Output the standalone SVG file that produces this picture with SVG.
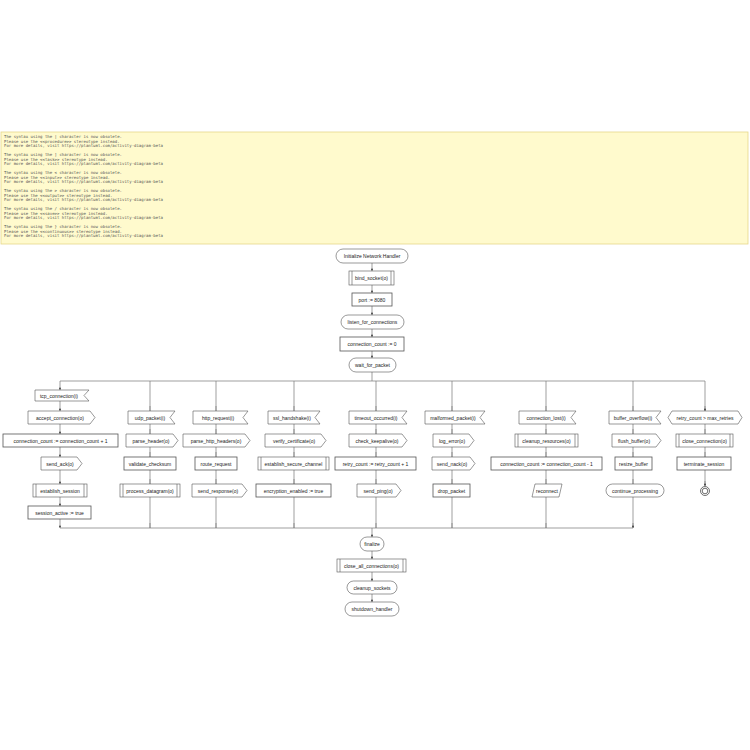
<svg xmlns="http://www.w3.org/2000/svg" width="750" height="750" viewBox="0 0 750 750">
<style>
.n{fill:#fff;stroke:#555;stroke-width:0.6}
.b{fill:#fff;stroke:#555;stroke-width:0.8}
.t{font-family:"Liberation Sans",Arial,sans-serif;font-size:5px;fill:#222;text-anchor:middle}
.m{font-family:"DejaVu Sans Mono",monospace;font-size:4px;fill:#555}
.c{fill:none;stroke:#777;stroke-width:0.7}
</style>
<defs><marker id="a" viewBox="0 0 6 6" refX="6" refY="3" markerWidth="4" markerHeight="4" orient="auto"><path d="M0,0L6,3L0,6L1.5,3Z" fill="#333"/></marker></defs>
<rect x="1" y="132" width="747" height="112" fill="#fffacd" stroke="#e6d88a" stroke-width="0.8"/>
<g class="m">
<text x="4" y="138">The syntax using the | character is now obsolete.</text>
<text x="4" y="142.5">Please use the &lt;&lt;procedure&gt;&gt; stereotype instead.</text>
<text x="4" y="147">For more details, visit https://plantuml.com/activity-diagram-beta</text>
<text x="4" y="156">The syntax using the ] character is now obsolete.</text>
<text x="4" y="160.5">Please use the &lt;&lt;task&gt;&gt; stereotype instead.</text>
<text x="4" y="165">For more details, visit https://plantuml.com/activity-diagram-beta</text>
<text x="4" y="174">The syntax using the &lt; character is now obsolete.</text>
<text x="4" y="178.5">Please use the &lt;&lt;input&gt;&gt; stereotype instead.</text>
<text x="4" y="183">For more details, visit https://plantuml.com/activity-diagram-beta</text>
<text x="4" y="192">The syntax using the &gt; character is now obsolete.</text>
<text x="4" y="196.5">Please use the &lt;&lt;output&gt;&gt; stereotype instead.</text>
<text x="4" y="201">For more details, visit https://plantuml.com/activity-diagram-beta</text>
<text x="4" y="210">The syntax using the / character is now obsolete.</text>
<text x="4" y="214.5">Please use the &lt;&lt;save&gt;&gt; stereotype instead.</text>
<text x="4" y="219">For more details, visit https://plantuml.com/activity-diagram-beta</text>
<text x="4" y="228">The syntax using the } character is now obsolete.</text>
<text x="4" y="232.5">Please use the &lt;&lt;continuous&gt;&gt; stereotype instead.</text>
<text x="4" y="237">For more details, visit https://plantuml.com/activity-diagram-beta</text>
</g>
<g id="connectors" class="c">
<path d="M372,263V271" marker-end="url(#a)"/>
<path d="M372,285V293" marker-end="url(#a)"/>
<path d="M372,306V315" marker-end="url(#a)"/>
<path d="M372,329V337" marker-end="url(#a)"/>
<path d="M372,351V358" marker-end="url(#a)"/>
<path d="M372,372V381"/>
<path d="M60,381H705"/>
<path d="M60,381V390" marker-end="url(#a)"/>
<path d="M60,401V411" marker-end="url(#a)"/>
<path d="M60,424V434" marker-end="url(#a)"/>
<path d="M60,447V457" marker-end="url(#a)"/>
<path d="M60,470V484" marker-end="url(#a)"/>
<path d="M60,497V506" marker-end="url(#a)"/>
<path d="M60,519V528" marker-end="url(#a)"/>
<path d="M150,381V411M216,381V411M294,381V411M376,381V411M452,381V411M546,381V411M633,381V411M705,381V411"/>
<path d="M150,406V411M216,406V411M294,406V411M376,406V411M452,406V411M546,406V411M633,406V411M705,406V411" marker-end="url(#a)"/>
<path d="M150,424V434M150,447V457M150,470V484M216,424V434M216,447V457M216,470V484M294,424V434M294,447V457M294,470V484M376,424V434M376,447V457M376,470V484M452,424V434M452,447V457M452,470V484M546,424V434M546,447V457M546,470V484M633,424V434M633,447V457M633,470V484M705,424V434M705,447V457M705,470V486"/>
<path d="M150,429V434M150,452V457M150,479V484M216,429V434M216,452V457M216,479V484M294,429V434M294,452V457M294,479V484M376,429V434M376,452V457M376,479V484M452,429V434M452,452V457M452,479V484M546,429V434M546,452V457M546,479V484M633,429V434M633,452V457M633,479V484M705,429V434M705,452V457M705,481V486" marker-end="url(#a)"/>
<path d="M150,497V528M216,497V528M294,497V528M376,497V528M452,497V528M546,497V528M633,497V528"/>
<path d="M150,523V528M216,523V528M294,523V528M376,523V528M452,523V528M546,523V528M633,523V528" marker-end="url(#a)"/>
<path d="M60,528H633"/>
<path d="M372,528V537" marker-end="url(#a)"/>
<path d="M372,551V559" marker-end="url(#a)"/>
<path d="M372,572V581" marker-end="url(#a)"/>
<path d="M372,594V602" marker-end="url(#a)"/>
</g>
<g id="init"><rect class="n" x="336" y="249" width="72" height="14" rx="7"/><text class="t" x="372" y="258">Initialize Network Handler</text></g>
<g id="bind"><rect class="n" x="349" y="271" width="45" height="14"/><path class="n" d="M352,271V285M391,271V285"/><text class="t" x="371.5" y="280">bind_socket(o)</text></g>
<g id="port"><rect class="b" x="352" y="293" width="40" height="13"/><text class="t" x="372" y="301.5">port := 8080</text></g>
<g id="listen"><rect class="n" x="341" y="315" width="63" height="14" rx="7"/><text class="t" x="372.5" y="324">listen_for_connections</text></g>
<g id="cc0"><rect class="b" x="340" y="337" width="64" height="14"/><text class="t" x="372" y="346">connection_count := 0</text></g>
<g id="wait"><rect class="n" x="349" y="358" width="47" height="14" rx="7"/><text class="t" x="372.5" y="367">wait_for_packet</text></g>

<g id="tcp"><path class="n" d="M35,390H89L84,395.5L89,401H35Z"/><text class="t" x="59" y="397.5">tcp_connection(i)</text></g>
<g id="accept"><path class="n" d="M28,411H90L95,417.5L90,424H28Z"/><text class="t" x="60" y="419.5">accept_connection(o)</text></g>
<g id="ccinc"><rect class="b" x="3" y="434" width="115" height="13"/><text class="t" x="60.5" y="442.5">connection_count := connection_count + 1</text></g>
<g id="ack"><path class="n" d="M41,457H77L82,463.5L77,470H41Z"/><text class="t" x="60" y="465.5">send_ack(o)</text></g>
<g id="estab"><rect class="n" x="33" y="484" width="54" height="13"/><path class="n" d="M36,484V497M84,484V497"/><text class="t" x="60" y="492.5">establish_session</text></g>
<g id="sess"><rect class="b" x="28" y="506" width="63" height="13"/><text class="t" x="59.5" y="514.5">session_active := true</text></g>

<g id="udp"><path class="n" d="M128,411H175L170,417.5L175,424H128Z"/><text class="t" x="150" y="419.5">udp_packet(i)</text></g>
<g id="parseh"><path class="n" d="M126,434H173L178,440.5L173,447H126Z"/><text class="t" x="151" y="442.5">parse_header(o)</text></g>
<g id="valid"><rect class="b" x="124" y="457" width="52" height="13"/><text class="t" x="150" y="465.5">validate_checksum</text></g>
<g id="procd"><rect class="n" x="120" y="484" width="60" height="13"/><path class="n" d="M123,484V497M177,484V497"/><text class="t" x="150" y="492.5">process_datagram(o)</text></g>

<g id="http"><path class="n" d="M193,411H248L243,417.5L248,424H193Z"/><text class="t" x="218" y="419.5">http_request(i)</text></g>
<g id="parsehttp"><path class="n" d="M183,434H245L250,440.5L245,447H183Z"/><text class="t" x="216" y="442.5">parse_http_headers(o)</text></g>
<g id="route"><rect class="b" x="195" y="457" width="42" height="13"/><text class="t" x="216" y="465.5">route_request</text></g>
<g id="resp"><path class="n" d="M192,484H242L247,490.5L242,497H192Z"/><text class="t" x="218" y="492.5">send_response(o)</text></g>

<g id="ssl"><path class="n" d="M268,411H320L315,417.5L320,424H268Z"/><text class="t" x="292" y="419.5">ssl_handshake(i)</text></g>
<g id="verify"><path class="n" d="M265,434H321L326,440.5L321,447H265Z"/><text class="t" x="294" y="442.5">verify_certificate(o)</text></g>
<g id="secure"><rect class="n" x="258" y="457" width="71" height="13"/><path class="n" d="M261,457V470M326,457V470"/><text class="t" x="293.5" y="465.5">establish_secure_channel</text></g>
<g id="enc"><rect class="b" x="256" y="484" width="75" height="13"/><text class="t" x="293.5" y="492.5">encryption_enabled := true</text></g>

<g id="timeout"><path class="n" d="M349,411H407L402,417.5L407,424H349Z"/><text class="t" x="376" y="419.5">timeout_occurred(i)</text></g>
<g id="keep"><path class="n" d="M349,434H402L407,440.5L402,447H349Z"/><text class="t" x="377" y="442.5">check_keepalive(o)</text></g>
<g id="retry"><rect class="b" x="335" y="457" width="81" height="13"/><text class="t" x="375.5" y="465.5">retry_count := retry_count + 1</text></g>
<g id="ping"><path class="n" d="M357,484H396L401,490.5L396,497H357Z"/><text class="t" x="378" y="492.5">send_ping(o)</text></g>

<g id="malf"><path class="n" d="M425,411H485L480,417.5L485,424H425Z"/><text class="t" x="453" y="419.5">malformed_packet(i)</text></g>
<g id="logerr"><path class="n" d="M433,434H469L474,440.5L469,447H433Z"/><text class="t" x="452" y="442.5">log_error(o)</text></g>
<g id="nack"><path class="n" d="M432,457H470L475,463.5L470,470H432Z"/><text class="t" x="452" y="465.5">send_nack(o)</text></g>
<g id="drop"><rect class="b" x="433" y="484" width="37" height="13"/><text class="t" x="451.5" y="492.5">drop_packet</text></g>

<g id="lost"><path class="n" d="M519,411H576L571,417.5L576,424H519Z"/><text class="t" x="546" y="419.5">connection_lost(i)</text></g>
<g id="cleanr"><rect class="n" x="515" y="434" width="63" height="13"/><path class="n" d="M518,434V447M575,434V447"/><text class="t" x="546.5" y="442.5">cleanup_resources(o)</text></g>
<g id="ccdec"><rect class="b" x="491" y="457" width="111" height="13"/><text class="t" x="546.5" y="465.5">connection_count := connection_count - 1</text></g>
<g id="recon"><path class="n" d="M535,484H562L559,497H532Z"/><text class="t" x="547" y="492.5">reconnect</text></g>

<g id="buf"><path class="n" d="M609,411H661L656,417.5L661,424H609Z"/><text class="t" x="633" y="419.5">buffer_overflow(i)</text></g>
<g id="flush"><path class="n" d="M612,434H656L661,440.5L656,447H612Z"/><text class="t" x="634" y="442.5">flush_buffer(o)</text></g>
<g id="resize"><rect class="b" x="615" y="457" width="37" height="13"/><text class="t" x="633.5" y="465.5">resize_buffer</text></g>
<g id="cont"><rect class="n" x="606" y="484" width="58" height="13" rx="6.5"/><text class="t" x="635" y="492.5">continue_processing</text></g>

<g id="cond"><path class="n" d="M672,411H738L742,417.5L738,424H672L668,417.5Z"/><text class="t" x="705" y="419.5">retry_count &gt; max_retries</text></g>
<g id="closec"><rect class="n" x="676" y="434" width="57" height="13"/><path class="n" d="M679,434V447M730,434V447"/><text class="t" x="704.5" y="442.5">close_connection(o)</text></g>
<g id="term"><rect class="b" x="677" y="457" width="54" height="13"/><text class="t" x="704" y="465.5">terminate_session</text></g>
<g id="end"><circle cx="705" cy="491" r="4.5" fill="#fff" stroke="#333" stroke-width="0.7"/><circle cx="705" cy="491" r="2.8" fill="#fff" stroke="#333" stroke-width="0.7"/></g>

<g id="finalize"><rect class="n" x="360" y="537" width="24" height="14" rx="7"/><text class="t" x="372" y="546">finalize</text></g>
<g id="closeall"><rect class="n" x="337" y="559" width="69" height="13"/><path class="n" d="M340,559V572M403,559V572"/><text class="t" x="371.5" y="567.5">close_all_connections(o)</text></g>
<g id="cleans"><rect class="n" x="347" y="581" width="50" height="13" rx="6.5"/><text class="t" x="372" y="589.5">cleanup_sockets</text></g>
<g id="shut"><rect class="n" x="345" y="602" width="54" height="14" rx="7"/><text class="t" x="372" y="611">shutdown_handler</text></g>
</svg>
